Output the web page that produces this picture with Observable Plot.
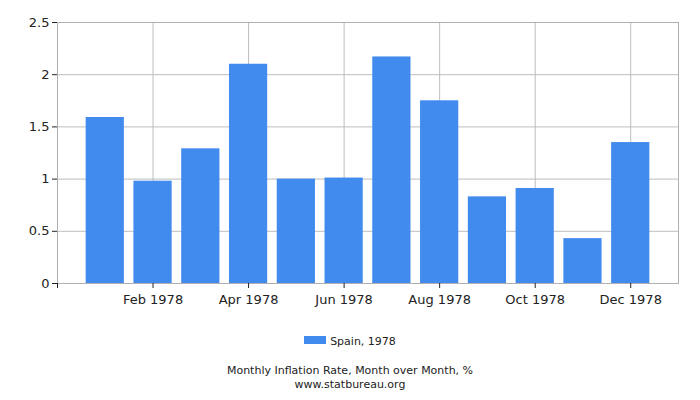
<!DOCTYPE html>
<html>
<head>
<meta charset="utf-8">
<script src="https://cdn.jsdelivr.net/npm/d3@7"></script>
<script src="https://cdn.jsdelivr.net/npm/@observablehq/plot@0.6"></script>
<style>
  html, body { margin: 0; padding: 0; background: #fff; }
  body { width: 700px; height: 400px; position: relative; font-family: "DejaVu Sans", sans-serif; color: #222; }
  #legend { position: absolute; left: 0; width: 700px; top: 335px; text-align: center; font-size: 11px; line-height: 14px; }
  #legend .sw { display: inline-block; width: 22px; height: 8px; background: #428bee; vertical-align: 1px; margin-right: 4px; }
  .cap { position: absolute; left: 0; width: 700px; text-align: center; font-size: 11px; line-height: 13px; height: 13px; }
</style>
</head>
<body>
<div id="chart"></div>
<div id="legend"><span class="sw"></span>Spain, 1978</div>
<div class="cap" style="top: 364px;">Monthly Inflation Rate, Month over Month, %</div>
<div class="cap" style="top: 377.5px;">www.statbureau.org</div>
<script>
const months = ["Jan 1978","Feb 1978","Mar 1978","Apr 1978","May 1978","Jun 1978","Jul 1978","Aug 1978","Sep 1978","Oct 1978","Nov 1978","Dec 1978"];
const values = [1.59, 0.98, 1.29, 2.10, 1.00, 1.01, 2.17, 1.75, 0.83, 0.91, 0.43, 1.35];
const xTicks = [0, 2, 4, 6, 8, 10, 12];
const xTickLabels = ["", "Feb 1978", "Apr 1978", "Jun 1978", "Aug 1978", "Oct 1978", "Dec 1978"];
const yTicks = [0, 0.5, 1, 1.5, 2, 2.5];

const table = months.map((m, i) => ({month: m, idx: i + 1, value: values[i]}));

const chart = Plot.plot({
  width: 700,
  height: 310,
  marginLeft: 57,
  marginRight: 22,
  marginTop: 22,
  marginBottom: 27,
  style: {fontFamily: "DejaVu Sans, sans-serif", fontSize: "13px", color: "#222", background: "#fff"},
  x: {domain: [0, 13]},
  y: {domain: [0, 2.5]},
  marks: [
    Plot.gridY(yTicks.slice(1), {stroke: "#bdbdbd", strokeOpacity: 1}),
    Plot.gridX(xTicks.slice(1), {stroke: "#bdbdbd", strokeOpacity: 1}),
    Plot.rectY(table, {x1: d => d.idx - 0.4, x2: d => d.idx + 0.4, y: "value", fill: "#428bee"}),
    Plot.frame({stroke: "#b0b0b0"}),
    Plot.axisY({ticks: yTicks, tickSize: 5, tickPadding: 3, label: null, stroke: "#222", fontSize: 13, tickFormat: d => String(d)}),
    Plot.axisX({ticks: xTicks, tickSize: 5, tickPadding: 6, label: null, stroke: "#222", fontSize: 13, tickFormat: d => xTickLabels[xTicks.indexOf(d)]})
  ]
});
document.getElementById("chart").appendChild(chart);
</script>
</body>
</html>
